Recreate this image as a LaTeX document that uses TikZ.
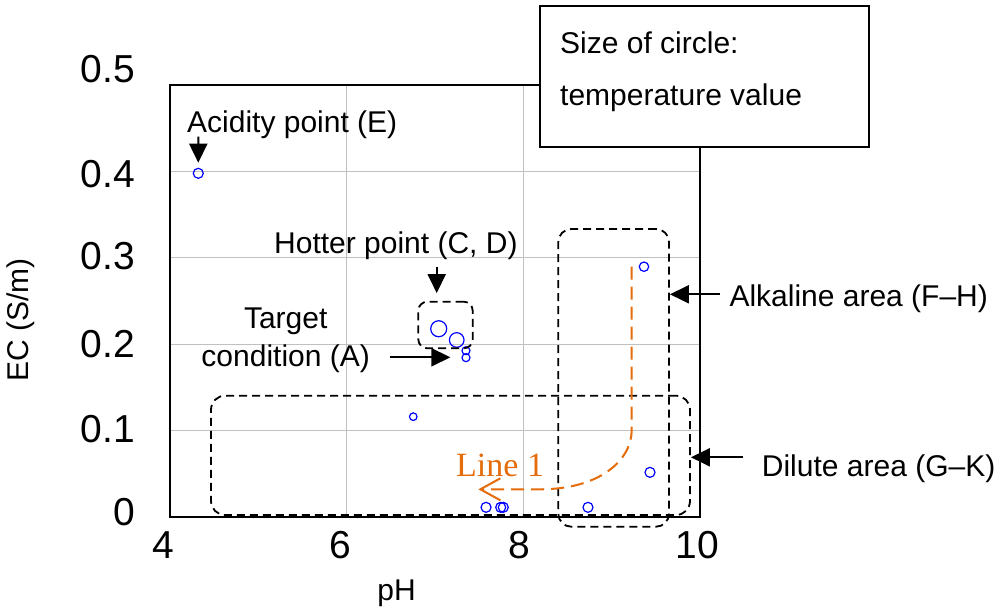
\documentclass[tikz,border=0pt]{standalone}
\usepackage{fontspec}
\setmainfont{Liberation Sans}
\newfontfamily\linefont{Liberation Serif}
\usetikzlibrary{arrows.meta,positioning}
\definecolor{dotblue}{HTML}{0000FF}
\definecolor{lineorange}{HTML}{E46C0A}
\definecolor{gridgray}{HTML}{C0C0C0}
\tikzset{
	lbl/.style={font=\fontsize{30}{36}\selectfont, inner sep=0pt},
	ticklbl/.style={font=\fontsize{39}{45}\selectfont, inner sep=0pt},
	pointer/.style={line width=2pt, -{Triangle[length=19pt,width=18pt]}},
	areabox/.style={draw, line width=1.8pt, dash pattern=on 8pt off 5pt, rounded corners=#1, inner sep=0pt},
	sample/.style={circle, draw=dotblue, line width=1.2pt, inner sep=0pt, minimum size=#1},
}

\begin{document}
\begin{tikzpicture}[x=1pt, y=-1pt]
			\useasboundingbox (0,0) rectangle (1000,610);

			\begin{scope}[shift={(170,517)}, x=88.33pt, y=864pt]
				\foreach \g in {6,8} \draw[gridgray, line width=1pt] (\g-4,0) -- (\g-4,0.5);
				\foreach \g in {0.1,0.2,0.3,0.4} \draw[gridgray, line width=1pt] (0,\g) -- (6,\g);
				\draw[line width=2.7pt] (0,0) rectangle (6,0.5);
				\foreach \ph/\ec/\sz/\nm in {4.320/0.3978/10/E, 7.042/0.2179/16/C, 7.246/0.2049/14.6/D,
						7.351/0.1925/8/B, 7.351/0.1844/8/A, 6.754/0.1161/7.6/J,
						7.578/0.0112/10/I, 7.744/0.0112/10/K, 7.773/0.0112/10/L,
						8.732/0.0112/10/G, 9.366/0.2897/9.4/F, 9.434/0.0517/10/H}
					\node[sample=\sz pt] (p\nm) at (\ph-4,\ec) {};
			\end{scope}

			\foreach \v/\yy in {0.5/69, 0.4/174, 0.3/256, 0.2/344, 0.1/429, 0/512}
				\node[ticklbl, anchor=east] (ytick\yy) at (135,\yy) {\v};
			\foreach \v/\xx in {4/163, 6/340, 8/519, 10/697}
				\node[ticklbl] (xtick\v) at (\xx,545) {\v};

			\node[lbl, anchor=base, rotate=90] (ylab) at (28,320) {EC (S/m)};
			\node[lbl, anchor=base] (xlab) at (396.5,600) {pH};

			\node[areabox=9pt, minimum width=54.4pt, minimum height=46.6pt] (hotbox) at (445.5,325) {};
			\node[areabox=14pt, minimum width=479pt, minimum height=119.3pt] (dilbox) at (450.5,455.35) {};
			\node[areabox=13pt, minimum width=110.7pt, minimum height=297.7pt] (alkbox) at (613.65,377.85) {};

			\coordinate (l1start) at (631.7,266.7);
			\coordinate (l1end) at (478.3,489.3);
			\draw[lineorange, line width=2pt, dash pattern=on 13pt off 7pt, -{Straight Barb[length=20pt,width=22pt]}]
				(l1start) -- (631.7,430) .. controls (631.7,460) and (600,489.3) .. (540,489.3) -- (l1end);
			\node[lbl, font=\linefont\fontsize{34}{40}\selectfont, text=lineorange, anchor=base west] (l1lab) at (456,476.7) {Line 1};

			\node[draw, fill=white, line width=2pt, minimum width=329pt, minimum height=141pt, inner sep=0pt] (legend) at (704.5,76.5) {};
			\node[lbl, anchor=base west] (legtop) at (560,54) {Size of circle:};
			\node[lbl, anchor=base west] (legbot) at (560,105) {temperature value};

			\node[lbl, anchor=base west] (acdlab) at (187,132) {Acidity point (E)};
			\node[lbl, anchor=base west] (hotlab) at (274,253.3) {Hotter point (C, D)};
			\node[lbl, font=\fontsize{30}{38.7}\selectfont, align=center, anchor=base] (tgtlab) at (285.7,366.7) {Target\\condition (A)};
			\node[lbl, anchor=base west] (alklab) at (729.3,306.7) {Alkaline area (F–H)};
			\node[lbl, anchor=base west] (dillab) at (761.7,476.7) {Dilute area (G–K)};

			\coordinate (acdtail) at (198.3,136.7);
			\coordinate (hottail) at (436.7,266.7);
			\coordinate (tgttail) at (390,357.3);
			\coordinate (alktail) at (720,294.3);
			\coordinate (diltail) at (743.3,457.3);
			\draw[pointer, shorten >=5pt] (acdtail) -- (pE.north);
			\draw[pointer, shorten >=7.7pt] (hottail) -- (hottail |- hotbox.north);
			\draw[pointer, shorten >=11pt] (tgttail) -- (tgttail -| pA.west);
			\draw[pointer] (alktail) -- (alktail -| alkbox.east);
			\draw[pointer] (diltail) -- (diltail -| dilbox.east);
\end{tikzpicture}
\end{document}
